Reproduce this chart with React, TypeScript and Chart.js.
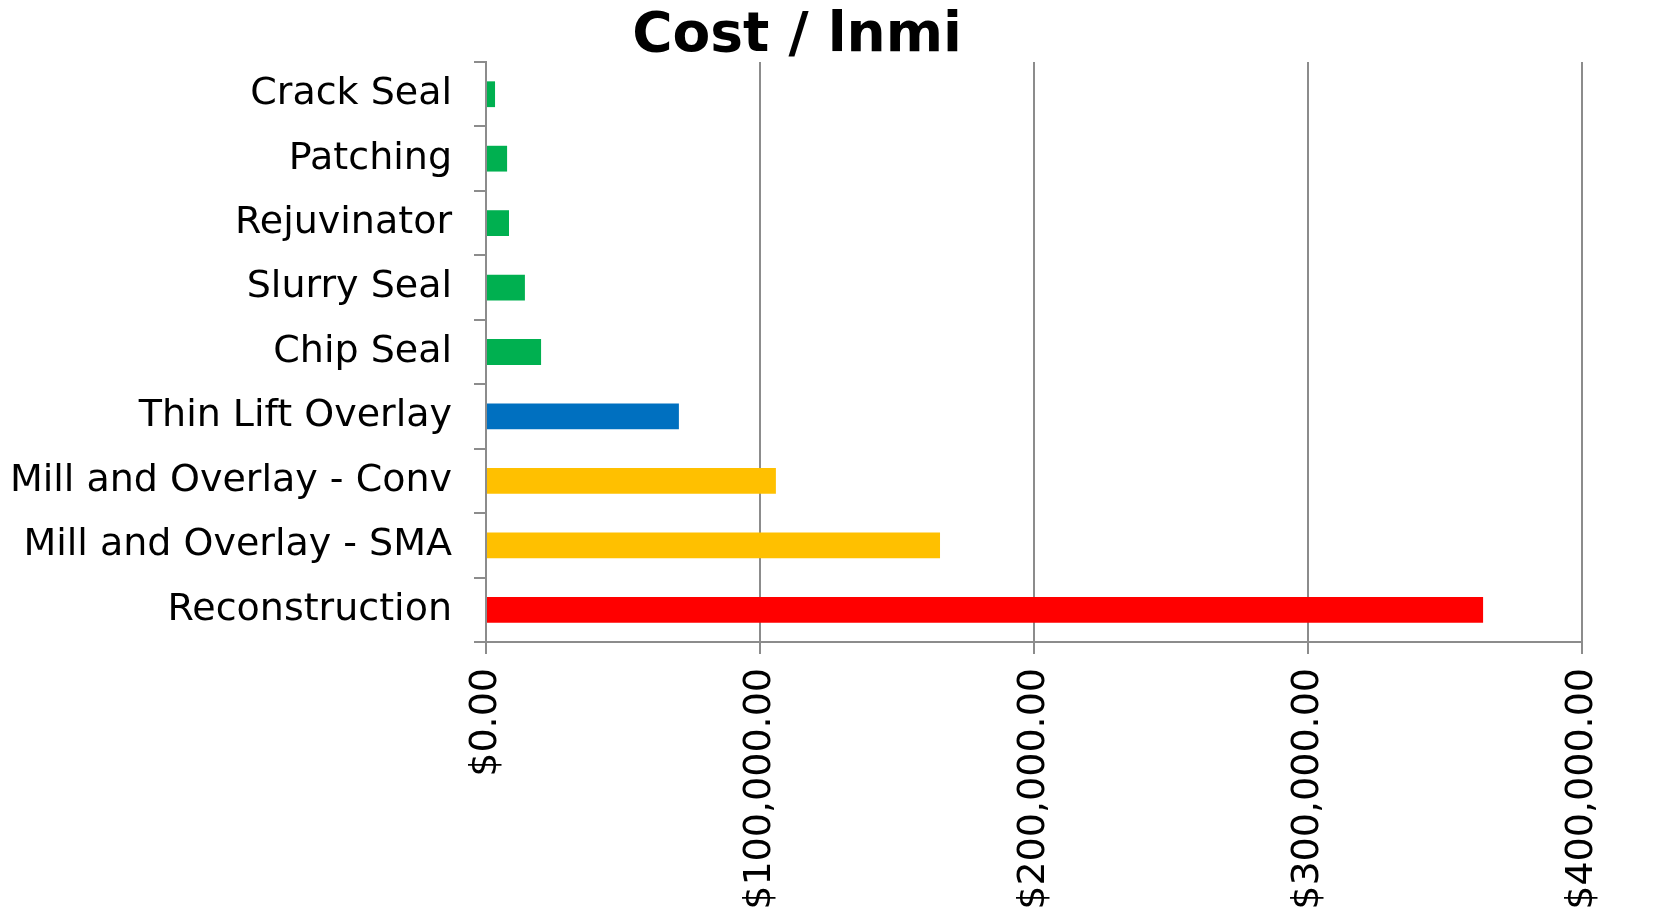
import React, { useEffect, useRef } from 'react';
import { Chart, registerables } from 'chart.js';

Chart.register(...registerables);

const chartTitle = 'Cost / lnmi';
const categories = [
  'Crack Seal',
  'Patching',
  'Rejuvinator',
  'Slurry Seal',
  'Chip Seal',
  'Thin Lift Overlay',
  'Mill and Overlay - Conv',
  'Mill and Overlay - SMA',
  'Reconstruction',
];
const costPerLnmi = [3300, 7700, 8400, 14200, 20100, 70400, 105800, 165700, 363900];
const barColors = [
  '#00B050',
  '#00B050',
  '#00B050',
  '#00B050',
  '#00B050',
  '#0070C0',
  '#FFC000',
  '#FFC000',
  '#FF0000',
];
const xTickValues = [0, 100000, 200000, 300000, 400000];
const xTickLabels = ['$0.00', '$100,000.00', '$200,000.00', '$300,000.00', '$400,000.00'];

const W = 1662;
const H = 910;
const FONT = "'DejaVu Sans', Verdana, sans-serif";
const AXIS_GRAY = '#8c8c8c';

export default function App() {
  const canvasRef = useRef<HTMLCanvasElement | null>(null);

  useEffect(() => {
    document.body.style.margin = '0';
    const canvas = canvasRef.current;
    if (!canvas) return;

    const titleShift = {
      id: 'titleShift',
      afterLayout(chart: any) {
        const t = chart.titleBlock;
        if (t) {
          t.left = 0;
          t.right = 1594;
        }
      },
    };

    const chart = new Chart(canvas, {
      type: 'bar',
      data: {
        labels: categories,
        datasets: [
          {
            label: chartTitle,
            data: costPerLnmi,
            backgroundColor: barColors,
            borderWidth: 0,
            categoryPercentage: 1,
            barPercentage: 0.4,
          },
        ],
      },
      options: {
        indexAxis: 'y',
        animation: false,
        responsive: false,
        devicePixelRatio: 1,
        layout: { padding: { left: 0, right: 80, top: 0, bottom: 0 } },
        plugins: {
          legend: { display: false },
          tooltip: { enabled: false },
          title: {
            display: true,
            text: chartTitle,
            color: '#000',
            font: { family: FONT, size: 55, weight: 'bold', lineHeight: '50px' },
            padding: { top: 12, bottom: 0 },
          },
        },
        scales: {
          x: {
            type: 'linear',
            min: 0,
            max: 400000,
            afterBuildTicks: (scale: any) => {
              scale.ticks = xTickValues.map((v) => ({ value: v }));
            },
            afterFit: (scale: any) => {
              scale.height = H - 642;
            },
            grid: {
              color: AXIS_GRAY,
              lineWidth: 2,
              drawTicks: true,
              tickLength: 12,
            },
            border: { display: true, color: AXIS_GRAY, width: 2 },
            ticks: {
              autoSkip: false,
              minRotation: 90,
              maxRotation: 90,
              padding: 14,
              color: '#000',
              font: { family: FONT, size: 38 },
              callback: (_v: any, i: number) => xTickLabels[i],
            },
          },
          y: {
            type: 'category',
            afterFit: (scale: any) => {
              scale.width = 486;
            },
            grid: {
              offset: true,
              drawOnChartArea: false,
              drawTicks: true,
              tickLength: 12,
              color: AXIS_GRAY,
              lineWidth: 2,
            },
            border: { display: true, color: AXIS_GRAY, width: 2 },
            ticks: {
              padding: 22,
              color: '#000',
              font: { family: FONT, size: 38 },
            },
          },
        },
      },
      plugins: [titleShift],
    });

    return () => chart.destroy();
  }, []);

  return (
    <div style={{ position: 'absolute', left: 0, top: 0, width: W, height: H, background: '#fff' }}>
      <canvas ref={canvasRef} width={W} height={H} style={{ width: W, height: H, display: 'block' }} />
    </div>
  );
}
